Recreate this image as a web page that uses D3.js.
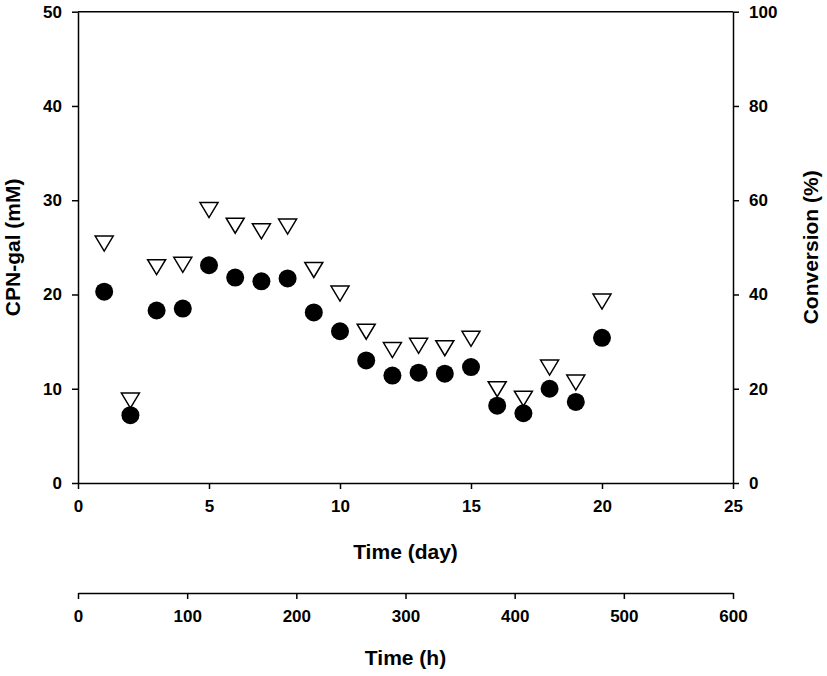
<!DOCTYPE html>
<html>
<head>
<meta charset="utf-8">
<script src="https://cdn.jsdelivr.net/npm/d3@7"></script>
<style>
  html, body { margin: 0; padding: 0; background: #fff; }
  svg { display: block; font-family: "Liberation Sans", Arial, sans-serif; }
  .tick text { font-weight: bold; font-size: 17px; fill: #000; }
  .title { font-weight: bold; font-size: 21px; fill: #000; }
</style>
</head>
<body>
<svg id="chart" width="827" height="676"></svg>
<script>
// ---- data ----
const days = [1, 2, 3, 4, 5, 6, 7, 8, 9, 10, 11, 12, 13, 14, 15, 16, 17, 18, 19, 20];
const cpnGal = [20.3, 7.2, 18.3, 18.5, 23.1, 21.8, 21.4, 21.7, 18.1, 16.1, 13.0, 11.4, 11.7, 11.6, 12.3, 8.2, 7.4, 10.0, 8.6, 15.4];
const conversion = [50.8, 17.5, 45.8, 46.3, 57.9, 54.6, 53.4, 54.4, 45.2, 40.2, 32.1, 28.2, 29.1, 28.6, 30.6, 19.9, 17.9, 24.5, 21.3, 38.5];
const dayTicks = [0, 5, 10, 15, 20, 25];
const hourTicks = [0, 100, 200, 300, 400, 500, 600];
const leftTicks = [0, 10, 20, 30, 40, 50];
const rightTicks = [0, 20, 40, 60, 80, 100];

// ---- layout ----
const L = 78, R = 733, T = 11.7, B = 483;
const hAxisY = 593;

const svg = d3.select("#chart");
const x = d3.scaleLinear().domain([0, 25]).range([L, R]);
const xh = d3.scaleLinear().domain([0, 600]).range([L, R]);
const yL = d3.scaleLinear().domain([0, 50]).range([B, T]);
const yR = d3.scaleLinear().domain([0, 100]).range([B, T]);

function styleAxis(g) {
  g.select(".domain").attr("stroke", "#000").attr("stroke-width", 1.5);
  g.selectAll(".tick line").attr("stroke", "#000").attr("stroke-width", 1.5);
}

// top border
svg.append("line").attr("x1", L).attr("x2", R).attr("y1", T).attr("y2", T)
  .attr("stroke", "#000").attr("stroke-width", 1.5);

// bottom (day) axis
svg.append("g").attr("transform", `translate(0,${B})`)
  .call(d3.axisBottom(x).tickValues(dayTicks).tickSize(6).tickSizeOuter(0).tickPadding(11).tickFormat(d3.format("d")))
  .call(styleAxis);

// left axis
svg.append("g").attr("transform", `translate(${L},0)`)
  .call(d3.axisLeft(yL).tickValues(leftTicks).tickSize(6).tickSizeOuter(0).tickPadding(10).tickFormat(d3.format("d")))
  .call(styleAxis);

// right axis
svg.append("g").attr("transform", `translate(${R},0)`)
  .call(d3.axisRight(yR).tickValues(rightTicks).tickSize(6).tickSizeOuter(0).tickPadding(10).tickFormat(d3.format("d")))
  .call(styleAxis);

// hour axis
svg.append("g").attr("transform", `translate(0,${hAxisY})`)
  .call(d3.axisBottom(xh).tickValues(hourTicks).tickSize(6).tickSizeOuter(0).tickPadding(11).tickFormat(d3.format("d")))
  .call(styleAxis);

// titles
svg.append("text").attr("class", "title").attr("text-anchor", "middle")
  .attr("x", (L + R) / 2).attr("y", 559).text("Time (day)");
svg.append("text").attr("class", "title").attr("text-anchor", "middle")
  .attr("x", (L + R) / 2).attr("y", 665).text("Time (h)");
svg.append("text").attr("class", "title").attr("text-anchor", "middle")
  .attr("transform", `translate(20,${(T + B) / 2}) rotate(-90)`).text("CPN-gal (mM)");
svg.append("text").attr("class", "title").attr("text-anchor", "middle")
  .attr("transform", `translate(818,${(T + B) / 2}) rotate(-90)`).text("Conversion (%)");

// conversion triangles (right axis), down-pointing
const tw = 18, th = 15;
svg.append("g").selectAll("path").data(days.map((d, i) => [d, conversion[i]]))
  .join("path")
  .attr("transform", d => `translate(${x(d[0])},${yR(d[1])})`)
  .attr("d", `M${-tw/2},${-th/2}L${tw/2},${-th/2}L0,${th/2}Z`)
  .attr("fill", "#fff").attr("stroke", "#000").attr("stroke-width", 1.5);

// CPN-gal circles (left axis)
svg.append("g").selectAll("circle").data(days.map((d, i) => [d, cpnGal[i]]))
  .join("circle")
  .attr("cx", d => x(d[0])).attr("cy", d => yL(d[1])).attr("r", 9)
  .attr("fill", "#000");
</script>
</body>
</html>
